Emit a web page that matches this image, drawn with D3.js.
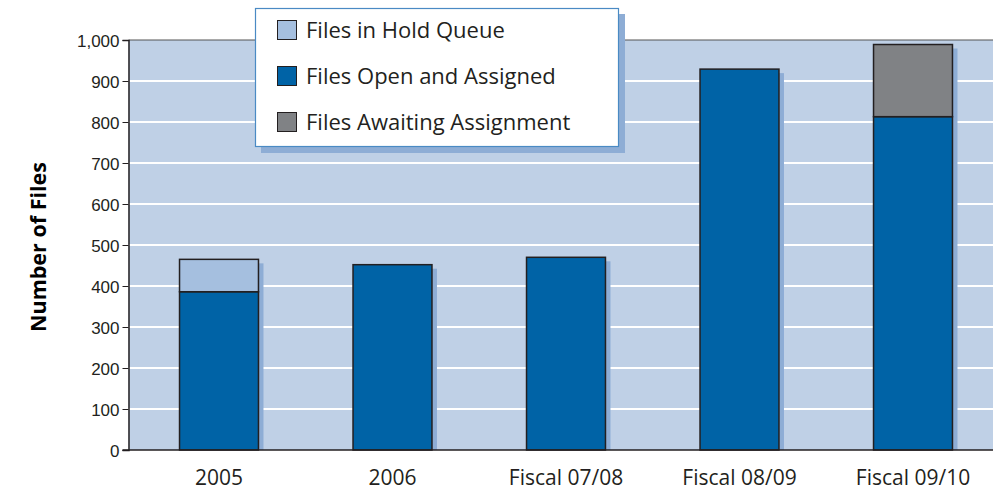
<!DOCTYPE html>
<html>
<head>
<meta charset="utf-8">
<script src="https://cdnjs.cloudflare.com/ajax/libs/d3/7.8.5/d3.min.js"></script>
<style>
  body { margin: 0; background: #fff; }
  svg { display: block; font-family: "Open Sans", "Noto Sans", sans-serif; }
</style>
</head>
<body>
<svg id="chart"></svg>
<script>
// data
let categories = ["2005", "2006", "Fiscal 07/08", "Fiscal 08/09", "Fiscal 09/10"]
let openAssigned = [386, 452, 470, 929, 813]
let holdQueue = [79, 0, 0, 0, 0]
let awaiting = [0, 0, 0, 0, 176]
let yTicks = [0, 100, 200, 300, 400, 500, 600, 700, 800, 900, 1000]
let legendLabels = ["Files in Hold Queue", "Files Open and Assigned", "Files Awaiting Assignment"]

let width = 993
let height = 491
let plotLeft = 128.5
let plotTop = 40
let plotBottom = 450
let plotRight = 993

let colors = {
  hold: "#a5bfdf",
  open: "#0063a6",
  awaiting: "#808285",
  plot: "#bfd0e6",
  shadow: "#8eadd5"
}

let svg = d3.select("#chart")
  .attr("width", width)
  .attr("height", height)

let xScale = d3.scaleBand()
  .domain(categories)
  .range([132.25, 999.75])
  .paddingInner(0.545)
  .paddingOuter(0.2725)

let yScale = d3.scaleLinear()
  .domain([0, 1000])
  .range([plotBottom, plotTop])

// plot background
svg.append("rect")
  .attr("x", plotLeft)
  .attr("y", plotTop)
  .attr("width", plotRight - plotLeft)
  .attr("height", plotBottom - plotTop)
  .attr("fill", colors.plot)

// gridlines
svg.append("g")
  .selectAll("line")
  .data(yTicks.filter(d => d > 0 && d < 1000))
  .enter()
  .append("line")
  .attr("x1", plotLeft)
  .attr("x2", plotRight)
  .attr("y1", d => yScale(d))
  .attr("y2", d => yScale(d))
  .attr("stroke", "#fff")
  .attr("stroke-width", 2)

// top border
svg.append("line")
  .attr("x1", plotLeft)
  .attr("x2", plotRight)
  .attr("y1", plotTop)
  .attr("y2", plotTop)
  .attr("stroke", "#555")
  .attr("stroke-width", 1.2)

let stacks = categories.map((c, i) => {
  let segs = []
  let base = 0
  ;[["open", openAssigned[i]], ["hold", holdQueue[i]], ["awaiting", awaiting[i]]].forEach(([key, v]) => {
    if (v > 0) {
      segs.push({ cat: c, key: key, y0: base, y1: base + v })
      base += v
    }
  })
  return { cat: c, total: base, segs: segs }
})

// bar shadows
svg.append("g")
  .selectAll("rect")
  .data(stacks)
  .enter()
  .append("rect")
  .attr("x", d => xScale(d.cat) + 5)
  .attr("y", d => yScale(d.total) + 4)
  .attr("width", xScale.bandwidth())
  .attr("height", d => plotBottom - yScale(d.total) - 4)
  .attr("fill", colors.shadow)

// bars
svg.append("g")
  .selectAll("rect")
  .data(stacks.flatMap(d => d.segs))
  .enter()
  .append("rect")
  .attr("x", d => xScale(d.cat))
  .attr("y", d => yScale(d.y1))
  .attr("width", xScale.bandwidth())
  .attr("height", d => yScale(d.y0) - yScale(d.y1))
  .attr("fill", d => colors[d.key])
  .attr("stroke", "#231f20")
  .attr("stroke-width", 1.5)

// y axis
let yAxis = d3.axisLeft(yScale)
  .tickValues(yTicks)
  .tickSize(6)
  .tickPadding(3)
  .tickFormat(d3.format(","))

let yG = svg.append("g")
  .attr("transform", "translate(" + plotLeft + ",0)")
  .call(yAxis)
yG.select(".domain").attr("stroke", "#231f20").attr("stroke-width", 1.5)
yG.selectAll(".tick line").attr("stroke", "#231f20")
yG.selectAll(".tick text")
  .attr("fill", "#231f20")
  .style("font-size", "17px")
  .attr("dy", "0.38em")

// x axis line
svg.append("line")
  .attr("x1", plotLeft - 6)
  .attr("x2", plotRight)
  .attr("y1", plotBottom)
  .attr("y2", plotBottom)
  .attr("stroke", "#231f20")
  .attr("stroke-width", 1.5)

// x labels
svg.append("g")
  .selectAll("text")
  .data(categories)
  .enter()
  .append("text")
  .attr("x", d => xScale(d) + xScale.bandwidth() / 2)
  .attr("y", 485)
  .attr("text-anchor", "middle")
  .style("font-size", "21px")
  .attr("fill", "#231f20")
  .text(d => d)

// y title
svg.append("text")
  .attr("transform", "translate(45.5,247) rotate(-90)")
  .attr("text-anchor", "middle")
  .style("font-size", "21.5px")
  .style("font-weight", "bold")
  .attr("fill", "#000")
  .text("Number of Files")

// legend
let lg = svg.append("g")
lg.append("rect")
  .attr("x", 261)
  .attr("y", 14)
  .attr("width", 364)
  .attr("height", 139)
  .attr("fill", colors.shadow)
lg.append("rect")
  .attr("x", 255.5)
  .attr("y", 8.5)
  .attr("width", 363)
  .attr("height", 138)
  .attr("fill", "#fff")
  .attr("stroke", "#4a8ac4")
  .attr("stroke-width", 1.2)

let legendKeys = ["hold", "open", "awaiting"]
let items = lg.selectAll(".item")
  .data(legendLabels)
  .enter()
  .append("g")
  .attr("transform", (d, i) => "translate(277," + (20 + i * 46) + ")")
items.append("rect")
  .attr("x", 0.5)
  .attr("y", 0.5)
  .attr("width", 19)
  .attr("height", 19)
  .attr("fill", (d, i) => colors[legendKeys[i]])
  .attr("stroke", "#231f20")
  .attr("stroke-width", 1)
items.append("text")
  .attr("x", 29)
  .attr("y", 18)
  .style("font-size", "22px")
  .attr("fill", "#231f20")
  .text(d => d)
</script>
</body>
</html>
